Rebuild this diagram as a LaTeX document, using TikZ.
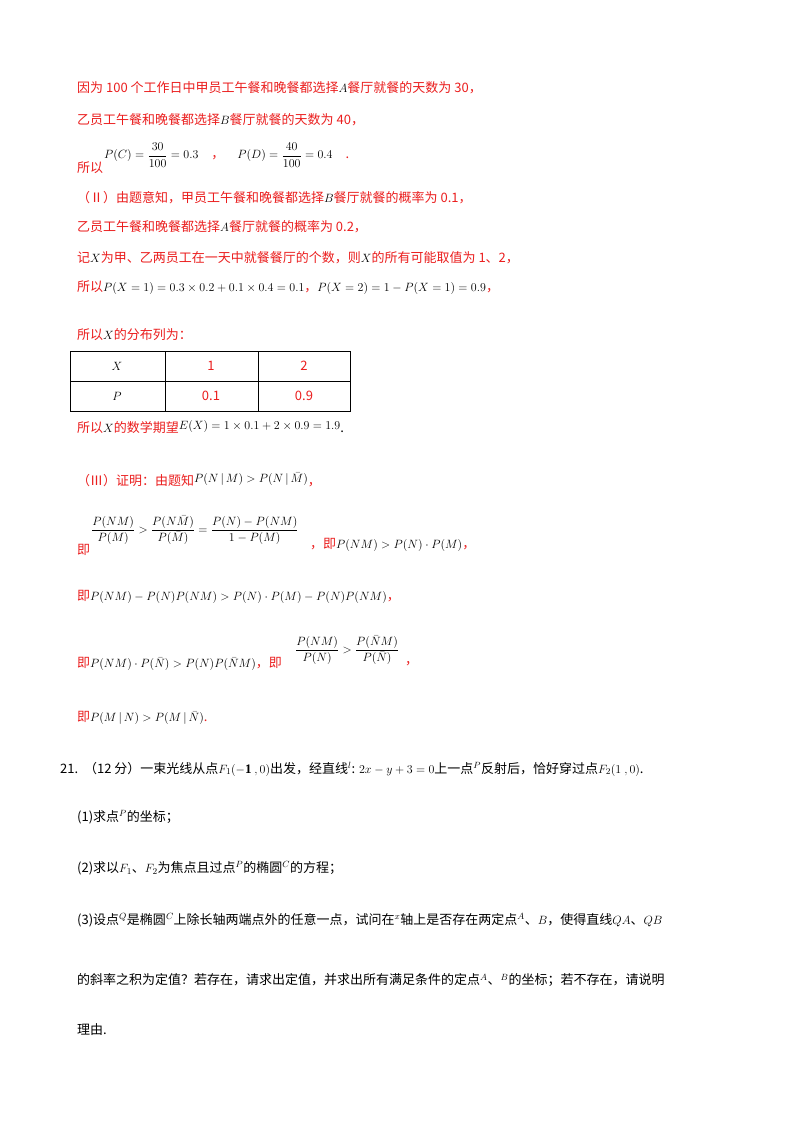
\documentclass[tikz,border=0pt]{standalone}
\usepackage{fontspec}
\usepackage{amsmath}
\setmainfont{Liberation Serif}
\newfontfamily\cjk{Noto Sans CJK SC}
\definecolor{rd}{RGB}{235,30,30}
\begin{document}
\begin{tikzpicture}[x=1pt,y=-1pt,
 t/.style={anchor=west,inner sep=0pt,font=\cjk\fontsize{13}{15}\selectfont},
 r/.style={t,text=rd}]
\useasboundingbox (0,0) rectangle (800,1132);
\fill[white] (0,0) rectangle (800,1132);
\node[r] (l1) at (77,88) {因为 100 个工作日中甲员工午餐和晚餐都选择\textcolor{black}{$A$}餐厅就餐的天数为 30，};
\node[r] (l2) at (77,120) {乙员工午餐和晚餐都选择\textcolor{black}{$B$}餐厅就餐的天数为 40，};
\node[r] (l3) at (77,168) {所以};
\node[t,anchor=west] (l3m) at (104,155) {$P(C)=\dfrac{30}{100}=0.3$\quad\textcolor{rd}{，}\quad $P(D)=\dfrac{40}{100}=0.4$\quad\textcolor{rd}{.}};
\node[r] (l4) at (77,198) {（Ⅱ）由题意知，甲员工午餐和晚餐都选择\textcolor{black}{$B$}餐厅就餐的概率为 0.1，};
\node[r] (l5) at (77,227) {乙员工午餐和晚餐都选择\textcolor{black}{$A$}餐厅就餐的概率为 0.2，};
\node[r] (l6) at (77,258) {记\textcolor{black}{$X$}为甲、乙两员工在一天中就餐餐厅的个数，则\textcolor{black}{$X$}的所有可能取值为 1、2，};
\node[r] (l7) at (77,288) {所以\textcolor{black}{$P(X=1)=0.3\times0.2+0.1\times0.4=0.1$}，\textcolor{black}{$P(X=2)=1-P(X=1)=0.9$}，};
\node[r] (l8) at (77,335) {所以\textcolor{black}{$X$}的分布列为：};
\draw (70,351) rectangle (350,411);
\draw (70,381) -- (350,381) (165,351) -- (165,411) (258,351) -- (258,411);
\node[t,anchor=center] (c1) at (117,366) {$X$};
\node[t,anchor=center] (c2) at (211,366) {\textcolor{rd}{1}};
\node[t,anchor=center] (c3) at (304,366) {\textcolor{rd}{2}};
\node[t,anchor=center] (c4) at (117,396) {$P$};
\node[t,anchor=center] (c5) at (211,396) {\textcolor{rd}{0.1}};
\node[t,anchor=center] (c6) at (304,396) {\textcolor{rd}{0.9}};
\node[r] (l9) at (77,427) {所以\textcolor{black}{$X$}的数学期望\raisebox{3pt}{\textcolor{black}{$E(X)=1\times0.1+2\times0.9=1.9$}}\textcolor{black}{.}};
\node[r] (l10) at (77,480) {（Ⅲ）证明：由题知\raisebox{3pt}{\textcolor{black}{$P(N\,|\,M)>P(N\,|\,\bar M)$}}，};
\node[r] (l11) at (77,550) {即};
\node[t] (l11m) at (91,530) {$\dfrac{P(NM)}{P(M)}>\dfrac{P(N\bar M)}{P(\bar M)}=\dfrac{P(N)-P(NM)}{1-P(M)}$};
\node[r] (l11b) at (310,545) {，即\textcolor{black}{$P(NM)>P(N)\cdot P(M)$}，};
\node[r] (l12) at (77,597) {即\textcolor{black}{$P(NM)-P(N)P(NM)>P(N)\cdot P(M)-P(N)P(NM)$}，};
\node[r] (l13) at (77,664) {即\textcolor{black}{$P(NM)\cdot P(\bar N)>P(N)P(\bar NM)$}，即};
\node[t] (l13m) at (295,650) {$\dfrac{P(NM)}{P(N)}>\dfrac{P(\bar NM)}{P(\bar N)}$};
\node[r] (l13b) at (405,664) {，};
\node[r] (l14) at (77,718) {即\textcolor{black}{$P(M\,|\,N)>P(M\,|\,\bar N)$}.};
\node[t] (q0) at (60,769) {21.\ \ （12 分）一束光线从点$F_1(\mathbf{-1}\ ,0)$出发，经直线$^{l}$: $2x-y+3=0$上一点$^{P}$反射后，恰好穿过点$F_2(1\ ,0)$.};
\node[t] (q1) at (77,817) {(1)求点$^{P}$的坐标；};
\node[t] (q2) at (77,868) {(2)求以$F_1$、$F_2$为焦点且过点$^{P}$的椭圆$^{C}$的方程；};
\node[t] (q3) at (77,920) {(3)设点$^{Q}$是椭圆$^{C}$上除长轴两端点外的任意一点，试问在$^{x}$轴上是否存在两定点$^{A}$、$B$，使得直线$QA$、$QB$};
\node[t] (q4) at (77,980) {的斜率之积为定值？若存在，请求出定值，并求出所有满足条件的定点$^{A}$、$^{B}$的坐标；若不存在，请说明};
\node[t] (q5) at (77,1030) {理由.};
\end{tikzpicture}
\end{document}
